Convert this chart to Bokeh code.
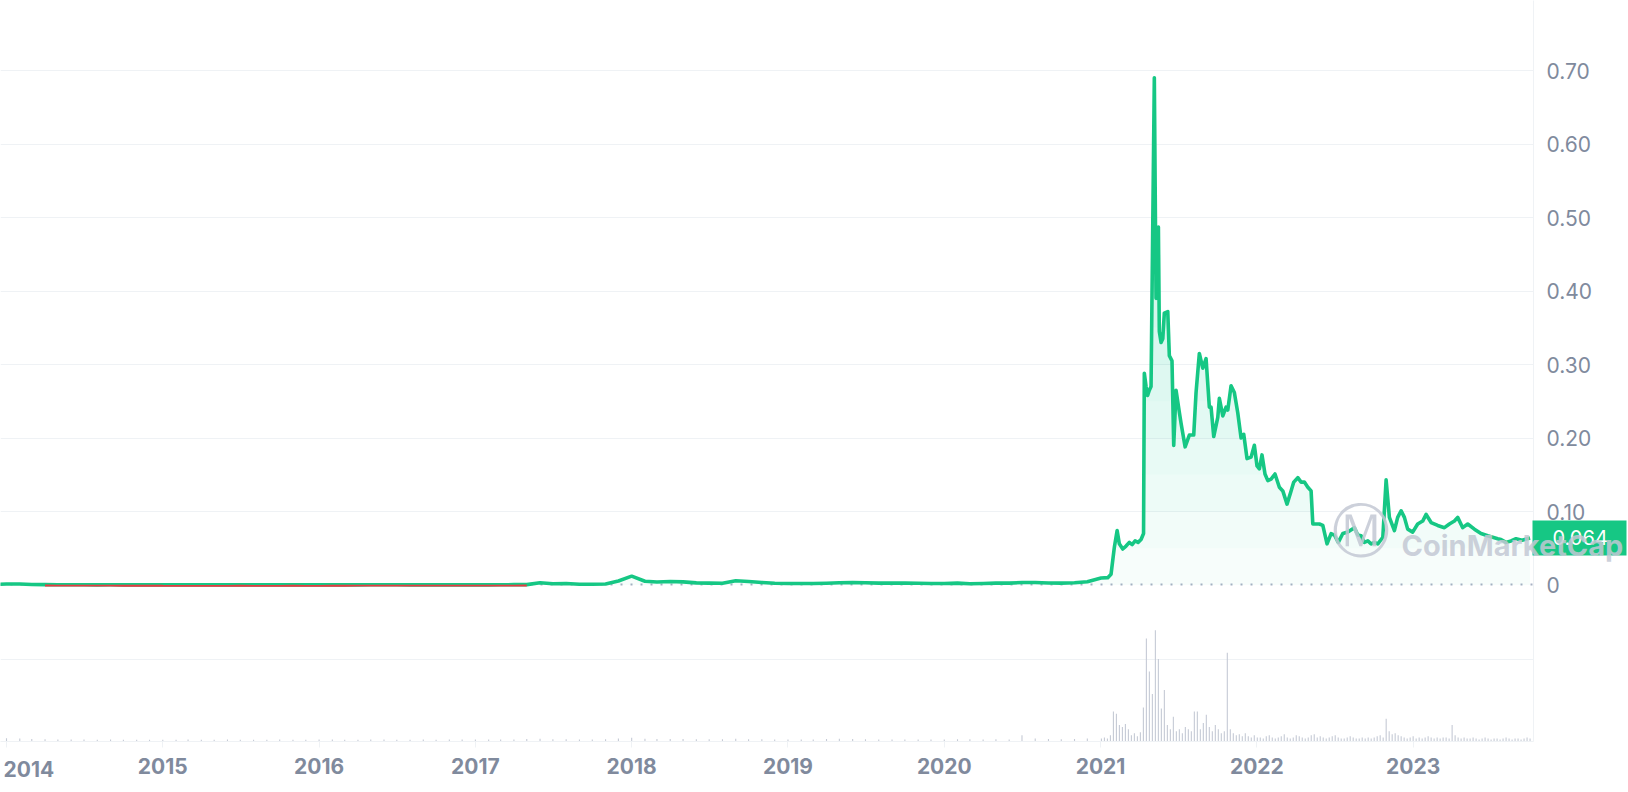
import numpy as np
import pandas as pd
from bokeh.plotting import figure
from bokeh.models import Range1d, FixedTicker, NumeralTickFormatter, Grid, Span, GridBox
from bokeh.core.properties import value
from bokeh.embed import file_html
from bokeh.resources import INLINE

# ---------------- data ----------------
# monthly price (USD), starting Dec 2013 through Dec 2020
early_start = "2013-12-01"
early_price = [
    0.00056,
    0.0014, 0.0013, 0.0007, 0.0005, 0.0004, 0.00035, 0.00025, 0.00022, 0.00025, 0.0002, 0.00023, 0.00018,
    0.00015, 0.00014, 0.00013, 0.00013, 0.00012, 0.00013, 0.00015, 0.00014, 0.00012, 0.00013, 0.00015, 0.00013,
    0.00014, 0.00022, 0.00021, 0.00023, 0.00025, 0.00032, 0.00025, 0.00022, 0.00023, 0.00022, 0.00023, 0.00022,
    0.00022, 0.00022, 0.0003, 0.00045, 0.0005, 0.0030, 0.0017, 0.0021, 0.0011, 0.0011, 0.0014, 0.0055,
    0.012, 0.0051, 0.004, 0.0048, 0.0043, 0.0029, 0.0026, 0.0023, 0.0058, 0.0048, 0.0035, 0.0023,
    0.002, 0.002, 0.002, 0.0024, 0.0031, 0.0032, 0.003, 0.0026, 0.0025, 0.0026, 0.0023, 0.002,
    0.0021, 0.0026, 0.0018, 0.002, 0.0025, 0.0026, 0.0033, 0.0035, 0.0027, 0.0026, 0.0031, 0.0045,
]
# monthly volume (relative units), same months
early_volume = [
    1.0,
    1.6, 1.4, 1.2, 1.1, 1.0, 1.0, 1.0, 0.9, 1.0, 0.9, 0.9, 0.9,
    0.9, 0.9, 1.0, 0.9, 0.9, 1.0, 0.9, 0.9, 0.9, 1.0, 0.9, 0.9,
    1.0, 1.0, 0.9, 0.9, 1.0, 1.0, 0.9, 0.9, 1.0, 0.9, 1.0, 1.0,
    1.0, 1.0, 1.0, 1.0, 1.2, 1.3, 1.1, 1.1, 1.0, 1.0, 1.1, 1.4,
    1.8, 1.3, 1.2, 1.2, 1.2, 1.1, 1.1, 1.1, 1.3, 1.1, 1.1, 1.0,
    1.0, 1.0, 1.0, 1.2, 1.3, 1.2, 1.1, 1.0, 1.0, 1.0, 1.0, 1.0,
    1.0, 1.1, 1.1, 1.0, 1.1, 1.0, 3.0, 1.4, 1.2, 1.1, 1.2, 1.5,
]
# price path from 2021 on (fractional year, USD)
late_dates = [
    2021.003, 2021.046, 2021.067, 2021.088, 2021.106, 2021.120, 2021.142, 2021.163, 2021.184, 2021.202,
    2021.221, 2021.240, 2021.259, 2021.275, 2021.280, 2021.291, 2021.301, 2021.312, 2021.323, 2021.344,
    2021.355, 2021.365, 2021.370, 2021.376, 2021.387, 2021.398, 2021.408, 2021.430, 2021.440, 2021.457,
    2021.468, 2021.483, 2021.504, 2021.515, 2021.541, 2021.568, 2021.596, 2021.611, 2021.632, 2021.654,
    2021.675, 2021.696, 2021.707, 2021.724, 2021.750, 2021.760, 2021.782, 2021.803, 2021.814, 2021.835,
    2021.856, 2021.878, 2021.899, 2021.916, 2021.937, 2021.963, 2021.984, 2022.001, 2022.016, 2022.033,
    2022.052, 2022.070, 2022.091, 2022.116, 2022.144, 2022.166, 2022.193, 2022.219, 2022.236, 2022.262,
    2022.283, 2022.304, 2022.326, 2022.347, 2022.358, 2022.400, 2022.422, 2022.449, 2022.475, 2022.496,
    2022.521, 2022.550, 2022.582, 2022.624, 2022.646, 2022.667, 2022.688, 2022.710, 2022.731, 2022.752,
    2022.774, 2022.806, 2022.827, 2022.848, 2022.880, 2022.901, 2022.923, 2022.944, 2022.965, 2022.997,
    2023.029, 2023.061, 2023.083, 2023.115, 2023.157, 2023.200, 2023.232, 2023.264, 2023.285, 2023.317,
    2023.349, 2023.392, 2023.434, 2023.477, 2023.541, 2023.562, 2023.594, 2023.626, 2023.658, 2023.697,
    2023.748,
]
late_price = [
    0.0095, 0.0100, 0.0146, 0.051, 0.074, 0.056, 0.049, 0.053, 0.058, 0.055,
    0.060, 0.058, 0.062, 0.070, 0.288, 0.270, 0.258, 0.265, 0.270, 0.690,
    0.390, 0.420, 0.487, 0.345, 0.330, 0.335, 0.370, 0.372, 0.312, 0.305,
    0.190, 0.265, 0.235, 0.220, 0.188, 0.204, 0.204, 0.262, 0.315, 0.295,
    0.308, 0.242, 0.242, 0.202, 0.228, 0.254, 0.230, 0.242, 0.238, 0.271,
    0.262, 0.234, 0.200, 0.205, 0.172, 0.174, 0.190, 0.162, 0.158, 0.177,
    0.151, 0.142, 0.144, 0.151, 0.133, 0.128, 0.110, 0.128, 0.140, 0.146,
    0.140, 0.140, 0.133, 0.128, 0.083, 0.083, 0.081, 0.056, 0.070, 0.068,
    0.058, 0.070, 0.072, 0.078, 0.068, 0.067, 0.058, 0.060, 0.056, 0.058,
    0.056, 0.065, 0.143, 0.092, 0.074, 0.092, 0.101, 0.092, 0.076, 0.072,
    0.083, 0.087, 0.096, 0.085, 0.081, 0.078, 0.083, 0.087, 0.092, 0.078,
    0.083, 0.076, 0.070, 0.067, 0.063, 0.062, 0.058, 0.060, 0.063, 0.061,
    0.064,
]
# weekly volume (relative units) from the first week of 2021
weekly_start = "2021-01-03"
weekly_volume = [
    1.5, 2, 1.5, 3, 14.5, 13.5, 8, 7, 8.5, 6, 3, 4, 2.5, 4.5, 16.5, 50, 34, 23, 54, 40,
    16, 25, 8, 6, 12, 5, 6, 4, 7, 6, 5, 14.5, 14.5, 6, 9, 13, 7, 5, 8, 6,
    4, 5, 43, 6, 4, 3, 3.5, 2.5, 4, 2.5, 2, 3, 2,
    2, 1.5, 2.5, 3, 2, 1.5, 2, 2.5, 3.5, 2, 1.5, 2, 3, 2.5, 2, 1.5, 2, 3, 3.5, 2, 2.5,
    2, 1.5, 2, 2.5, 3, 2, 1.5, 1.5, 2, 2.5, 2, 1.5, 1.5, 2, 1.5, 2, 1.5, 2, 2.5, 3, 2,
    11, 5, 3.5, 4, 3, 2.5,
    2, 1.5, 2, 2.5, 1.5, 2, 1.5, 2, 2.5, 2, 1.5, 2, 1.5, 2, 2, 1.5,
    8, 3, 2,
    1.5, 2, 1.5, 1.5, 2, 1.5, 1, 1.5, 2, 1.5, 1, 1.5, 1.5, 1, 1.5, 2, 1.5, 1, 1.5, 1.5, 1, 1.5, 2, 1.5,
]
year_ticks = [2014, 2015, 2016, 2017, 2018, 2019, 2020, 2021, 2022, 2023]
price_ticks = [0, 0.1, 0.2, 0.3, 0.4, 0.5, 0.6, 0.7]
volume_grid = [40]


def frac_year(ts):
    days = 366 if ts.is_leap_year else 365
    return ts.year + (ts.dayofyear - 1) / days


early_dates = [frac_year(t) for t in pd.date_range(early_start, periods=len(early_price), freq="MS")]
week_dates = [frac_year(t) for t in pd.date_range(weekly_start, periods=len(weekly_volume), freq="7D")]

dates = np.array(early_dates + list(late_dates))
price = np.array(early_price + list(late_price))
baseline = early_price[0]
below = np.where(price < baseline, price, np.nan)

vol_dates = np.array(early_dates + week_dates)
vol_vals = np.array(early_volume + weekly_volume)

# ---------------- styling constants ----------------
GREEN = "#16c784"
RED = "#ea3943"
GRID = "#eff2f5"
LABEL = "#808a9d"
W, H = 1628, 790
PX_PER_UNIT = 735.0
Y1 = 584.5 / PX_PER_UNIT            # top of frame
Y0 = -(741 - 584.5) / PX_PER_UNIT   # bottom of frame
RED_SHIFT = 0.0012

p = figure(width=W, height=H, output_backend="svg", toolbar_location=None,
           x_range=Range1d(2013.9616, 2023.770), y_range=Range1d(Y0, Y1),
           y_axis_location="right", min_border_left=0, min_border_top=0,
           min_border_right=95, min_border_bottom=H - 741,
           background_fill_color="white", border_fill_color="white",
           outline_line_color=None)
p.frame_align = False
p.extra_y_ranges = {"vol": Range1d(0, 741 / 2.0625),
                    "red": Range1d(Y0 + RED_SHIFT, Y1 + RED_SHIFT)}

# grids
p.xgrid.visible = False
p.ygrid.ticker = FixedTicker(ticks=price_ticks[1:])
p.ygrid.grid_line_color = GRID
p.ygrid.grid_line_width = 1
p.add_layout(Grid(dimension=1, ticker=FixedTicker(ticks=volume_grid), y_range_name="vol",
                  grid_line_color=GRID, grid_line_width=1))

# right (price) axis
yax = p.yaxis[0]
yax.ticker = FixedTicker(ticks=price_ticks)
yax.formatter = NumeralTickFormatter(format="0.00")
yax.major_label_overrides = {0: "0"}
yax.axis_line_color = GRID
yax.major_tick_line_color = None
yax.minor_tick_line_color = None
yax.major_tick_out = 0
yax.major_tick_in = 0
yax.major_label_standoff = 13
yax.major_label_text_font = "Inter"
yax.major_label_text_font_size = "21px"
yax.major_label_text_color = LABEL

# bottom (year) axis; the first label is drawn shifted right (see overlay)
xax = p.xaxis[0]
xax.ticker = FixedTicker(ticks=year_ticks)
xax.major_label_overrides = {year_ticks[0]: ""}
xax.axis_line_color = GRID
xax.major_tick_line_color = GRID
xax.minor_tick_line_color = None
xax.major_tick_out = 6
xax.major_tick_in = 0
xax.major_label_standoff = 10
xax.major_label_text_font = "Inter"
xax.major_label_text_font_style = "bold"
xax.major_label_text_font_size = "21px"
xax.major_label_text_color = LABEL

# baseline (opening price) dotted line
p.add_layout(Span(location=baseline, dimension="width", line_color="#a6b0c3",
                  line_width=2, line_dash="2 8", level="underlay"))

# gradient-like fill under the price line
for i, lvl in enumerate(np.arange(0, 0.70, 0.05)):
    p.varea(x=dates, y1=np.full(len(price), lvl), y2=np.maximum(price, lvl),
            fill_color=GREEN, fill_alpha=0.035 if i == 0 else 0.02)

# volume bars
p.segment(x0=vol_dates, y0=np.zeros(len(vol_vals)), x1=vol_dates, y1=vol_vals,
          line_color="#c5cad5", line_width=1.1, y_range_name="vol")

# price line (green) and below-open part (red lower half)
p.line(dates, price, line_color=GREEN, line_width=3.6, line_join="round")
p.line(dates, below, line_color=RED, line_width=1.8, y_range_name="red")

# ---------------- overlay: price tag, watermark, first year label ----------------
ov = figure(width=W, height=H, output_backend="svg", toolbar_location=None,
            x_range=Range1d(0, W), y_range=Range1d(Y1 - H / PX_PER_UNIT, Y1),
            x_axis_type=None, y_axis_type=None, min_border=0,
            background_fill_color=None, border_fill_color=None, outline_line_color=None)
ov.frame_align = False
ov.grid.visible = False
last = late_price[-1]
ov.rect(x=[1579], y=[last], width=94, height=35, height_units="screen",
        fill_color=GREEN, line_color=None)
ov.text(x=[1552], y=[last], text=[f"{last:.3f}"], text_color="white",
        text_font=value("Inter"), text_font_size="20px",
        text_align="left", text_baseline="middle")
ov.text(x=[1360], y=[0.0741], text=["\u24c2"], text_color="#c3c8d4", text_alpha=0.85,
        text_font=value("DejaVu Sans"), text_font_size="58px",
        text_align="center", text_baseline="middle")
ov.text(x=[1401], y=[0.0537], text=["CoinMarketCap"], text_color="#c3c8d4", text_alpha=0.85,
        text_font=value("Inter"), text_font_style="bold", text_font_size="29px",
        text_align="left", text_baseline="alphabetic")
ov.text(x=[3], y=[Y1 - 768 / PX_PER_UNIT], text=[str(year_ticks[0])], text_color=LABEL,
        text_font=value("Inter"), text_font_style="bold", text_font_size="21px",
        text_align="left", text_baseline="middle")

layout = GridBox(children=[(p, 0, 0), (ov, 0, 0)])

open("out.html", "w").write(file_html(layout, INLINE))
